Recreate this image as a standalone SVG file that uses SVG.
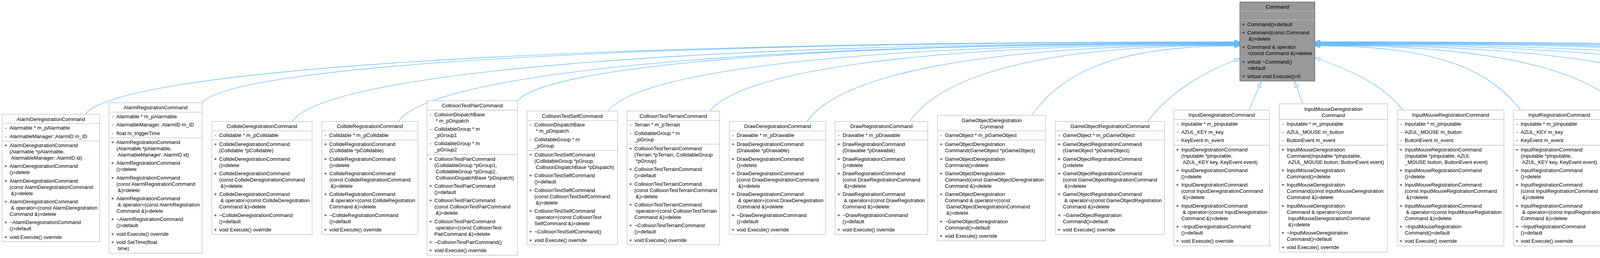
<svg xmlns="http://www.w3.org/2000/svg" width="6458" height="661" viewBox="0 0 6458 661">
<style>
.b{fill:#fff;stroke:#bfbfbf;stroke-width:1.33}
.s{fill:none;stroke:#bfbfbf;stroke-width:1.33}
.cb{fill:#999;stroke:#666;stroke-width:1.33}
.cs{fill:none;stroke:#b5b5b5;stroke-width:1.33}
text{font-family:"Liberation Sans",Arial,Helvetica,sans-serif;font-size:13px;fill:#000}
.t{text-anchor:middle}
.e{fill:none;stroke:#63b8ff;stroke-width:1.33;marker-end:url(#arr)}
</style>
<defs>
<marker id="arr" markerUnits="userSpaceOnUse" markerWidth="16" markerHeight="12" refX="0.5" refY="5.5" orient="auto" overflow="visible"><path d="M0.5,0.8L13.5,5.5L0.5,10.2Z" fill="none" stroke="#63b8ff" stroke-width="1.33"/></marker>
</defs>
<rect width="6458" height="661" fill="#fff"/>
<g id="connectors">
<path class="e" d="M219,292.7C299,181.3 1396,107 3161,107"/>
<path class="e" d="M517,263.3C597,170.1 1575,108 3161,108"/>
<path class="e" d="M748,311.3C828,190.2 1713,109.5 3161,109.5"/>
<path class="e" d="M1020,311.3C1100,190.8 1876,110.5 3161,110.5"/>
<path class="e" d="M1325,258C1405,170.1 2059,111.5 3161,111.5"/>
<path class="e" d="M1556,284.7C1636,181.4 2198,112.5 3161,112.5"/>
<path class="e" d="M1817,284.7C1897,182.3 2355,114 3161,114"/>
<path class="e" d="M2066,311.3C2146,193.5 2504,115 3161,115"/>
<path class="e" d="M2329,311.3C2409,194.1 2662,116 3161,116"/>
<path class="e" d="M2641,295.3C2719,188.6 2849,117.5 3161,117.5"/>
<path class="e" d="M2938,311.3C2990,240 3080,185 3162,154.5"/>
<path class="e" d="M3198,282L3223.2,222"/>
<path class="e" d="M3335,266L3319.3,222.3"/>
<path class="e" d="M3591,282C3540,215 3455,180 3378,152"/>
<path class="e" d="M3893,282C3816,183.3 3687,117.5 3379,117.5"/>
<path class="e" d="M4168,295.3C4088,187.7 3852,116 3379,116"/>
<path class="e" d="M4478,311.3C4398,193.5 4038,115 3379,115"/>
<path class="e" d="M4770,311.3C4690,192.9 4214,114 3379,114"/>
<path class="e" d="M5051,311.3C4971,192 4382,112.5 3379,112.5"/>
<path class="e" d="M5275,266C5195,173.3 4517,111.5 3379,111.5"/>
<path class="e" d="M5511,266C5431,172.7 4658,110.5 3379,110.5"/>
<path class="e" d="M5763,266C5683,172.1 4809,109.5 3379,109.5"/>
<path class="e" d="M5993,266C5913,171.2 4947,108 3379,108"/>
<path class="e" d="M6224,258C6144,167.4 5086,107 3379,107"/>
</g>

<g id="Command" transform="translate(3174,5)"><rect class="cb" width="192" height="202.67"/><path class="cs" d="M0,24H192M0,46H192"/><text class="t" x="96" y="17">Command</text><text y="61.67"><tspan x="5.6">+</tspan><tspan x="19">Command()=default</tspan><tspan x="5.6" dy="21.33">+</tspan><tspan x="19">Command(const Command</tspan><tspan x="22.6" dy="16">&amp;)=delete</tspan><tspan x="5.6" dy="21.33">+</tspan><tspan x="19">Command &amp; operator</tspan><tspan x="19" dy="16">=(const Command &amp;)=delete</tspan><tspan x="5.6" dy="21.33">+</tspan><tspan x="19">virtual ~Command()</tspan><tspan x="19" dy="16">=default</tspan><tspan x="5.6" dy="21.33">+</tspan><tspan x="19">virtual void Execute()=0</tspan></text></g>

<g id="AlarmDeregistrationCommand" transform="translate(5.5,292.67)"><rect class="b" width="249.5" height="326.67"/><path class="s" d="M0,24H249.5M0,68.67H249.5"/><text class="t" x="124.75" y="17">AlarmDeregistrationCommand</text><text y="39.67"><tspan x="7.3">-</tspan><tspan x="19">Alarmable * m_pAlarmable</tspan><tspan x="7.3" dy="21.33">-</tspan><tspan x="19">AlarmableManager::AlarmID m_ID</tspan></text><text y="84.33"><tspan x="5.6">+</tspan><tspan x="19">AlarmDeregistrationCommand</tspan><tspan x="19" dy="16">(Alarmable *pAlarmable,</tspan><tspan x="22.6" dy="16">AlarmableManager::AlarmID id)</tspan><tspan x="5.6" dy="21.33">+</tspan><tspan x="19">AlarmDeregistrationCommand</tspan><tspan x="19" dy="16">()=delete</tspan><tspan x="5.6" dy="21.33">+</tspan><tspan x="19">AlarmDeregistrationCommand</tspan><tspan x="19" dy="16">(const AlarmDeregistrationCommand</tspan><tspan x="22.6" dy="16">&amp;)=delete</tspan><tspan x="5.6" dy="21.33">+</tspan><tspan x="19">AlarmDeregistrationCommand</tspan><tspan x="22.6" dy="16">&amp; operator=(const AlarmDeregistration</tspan><tspan x="19" dy="16">Command &amp;)=delete</tspan><tspan x="5.6" dy="21.33">+</tspan><tspan x="19">~AlarmDeregistrationCommand</tspan><tspan x="19" dy="16">()=default</tspan><tspan x="5.6" dy="21.33">+</tspan><tspan x="19">void Execute() override</tspan></text></g>

<g id="AlarmRegistrationCommand" transform="translate(279,263.33)"><rect class="b" width="238.5" height="385.33"/><path class="s" d="M0,24H238.5M0,90H238.5"/><text class="t" x="119.25" y="17">AlarmRegistrationCommand</text><text y="39.67"><tspan x="7.3">-</tspan><tspan x="19">Alarmable * m_pAlarmable</tspan><tspan x="7.3" dy="21.33">-</tspan><tspan x="19">AlarmableManager::AlarmID m_ID</tspan><tspan x="7.3" dy="21.33">-</tspan><tspan x="19">float m_triggerTime</tspan></text><text y="105.67"><tspan x="5.6">+</tspan><tspan x="19">AlarmRegistrationCommand</tspan><tspan x="19" dy="16">(Alarmable *pAlarmable,</tspan><tspan x="22.6" dy="16">AlarmableManager::AlarmID id)</tspan><tspan x="5.6" dy="21.33">+</tspan><tspan x="19">AlarmRegistrationCommand</tspan><tspan x="19" dy="16">()=delete</tspan><tspan x="5.6" dy="21.33">+</tspan><tspan x="19">AlarmRegistrationCommand</tspan><tspan x="19" dy="16">(const AlarmRegistrationCommand</tspan><tspan x="22.6" dy="16">&amp;)=delete</tspan><tspan x="5.6" dy="21.33">+</tspan><tspan x="19">AlarmRegistrationCommand</tspan><tspan x="22.6" dy="16">&amp; operator=(const AlarmRegistration</tspan><tspan x="19" dy="16">Command &amp;)=delete</tspan><tspan x="5.6" dy="21.33">+</tspan><tspan x="19">~AlarmRegistrationCommand</tspan><tspan x="19" dy="16">()=default</tspan><tspan x="5.6" dy="21.33">+</tspan><tspan x="19">void Execute() override</tspan><tspan x="5.6" dy="21.33">+</tspan><tspan x="19">void SetTime(float</tspan><tspan x="22.6" dy="16">time)</tspan></text></g>

<g id="CollideDeregistrationCommand" transform="translate(542,311.33)"><rect class="b" width="257" height="289.33"/><path class="s" d="M0,24H257M0,47.33H257"/><text class="t" x="128.5" y="17">CollideDeregistrationCommand</text><text y="39.67"><tspan x="7.3">-</tspan><tspan x="19">Collidable * m_pCollidable</tspan></text><text y="63"><tspan x="5.6">+</tspan><tspan x="19">CollideDeregistrationCommand</tspan><tspan x="19" dy="16">(Collidable *pCollidable)</tspan><tspan x="5.6" dy="21.33">+</tspan><tspan x="19">CollideDeregistrationCommand</tspan><tspan x="19" dy="16">()=delete</tspan><tspan x="5.6" dy="21.33">+</tspan><tspan x="19">CollideDeregistrationCommand</tspan><tspan x="19" dy="16">(const CollideDeregistrationCommand</tspan><tspan x="22.6" dy="16">&amp;)=delete</tspan><tspan x="5.6" dy="21.33">+</tspan><tspan x="19">CollideDeregistrationCommand</tspan><tspan x="22.6" dy="16">&amp; operator=(const CollideDeregistration</tspan><tspan x="19" dy="16">Command &amp;)=delete</tspan><tspan x="5.6" dy="21.33">+</tspan><tspan x="19">~CollideDeregistrationCommand</tspan><tspan x="19" dy="16">()=default</tspan><tspan x="5.6" dy="21.33">+</tspan><tspan x="19">void Execute() override</tspan></text></g>

<g id="CollideRegistrationCommand" transform="translate(824,311.33)"><rect class="b" width="246" height="289.33"/><path class="s" d="M0,24H246M0,47.33H246"/><text class="t" x="123" y="17">CollideRegistrationCommand</text><text y="39.67"><tspan x="7.3">-</tspan><tspan x="19">Collidable * m_pCollidable</tspan></text><text y="63"><tspan x="5.6">+</tspan><tspan x="19">CollideRegistrationCommand</tspan><tspan x="19" dy="16">(Collidable *pCollidable)</tspan><tspan x="5.6" dy="21.33">+</tspan><tspan x="19">CollideRegistrationCommand</tspan><tspan x="19" dy="16">()=delete</tspan><tspan x="5.6" dy="21.33">+</tspan><tspan x="19">CollideRegistrationCommand</tspan><tspan x="19" dy="16">(const CollideRegistrationCommand</tspan><tspan x="22.6" dy="16">&amp;)=delete</tspan><tspan x="5.6" dy="21.33">+</tspan><tspan x="19">CollideRegistrationCommand</tspan><tspan x="22.6" dy="16">&amp; operator=(const CollideRegistration</tspan><tspan x="19" dy="16">Command &amp;)=delete</tspan><tspan x="5.6" dy="21.33">+</tspan><tspan x="19">~CollideRegistrationCommand</tspan><tspan x="19" dy="16">()=default</tspan><tspan x="5.6" dy="21.33">+</tspan><tspan x="19">void Execute() override</tspan></text></g>

<g id="CollisionTestPairCommand" transform="translate(1093,258)"><rect class="b" width="232" height="396"/><path class="s" d="M0,24H232M0,138H232"/><text class="t" x="116" y="17">CollisionTestPairCommand</text><text y="39.67"><tspan x="7.3">-</tspan><tspan x="19">CollisionDispatchBase</tspan><tspan x="22.6" dy="16">* m_pDispatch</tspan><tspan x="7.3" dy="21.33">-</tspan><tspan x="19">CollidableGroup * m</tspan><tspan x="19" dy="16">_pGroup1</tspan><tspan x="7.3" dy="21.33">-</tspan><tspan x="19">CollidableGroup * m</tspan><tspan x="19" dy="16">_pGroup2</tspan></text><text y="153.67"><tspan x="5.6">+</tspan><tspan x="19">CollisionTestPairCommand</tspan><tspan x="19" dy="16">(CollidableGroup *pGroup1,</tspan><tspan x="22.6" dy="16">CollidableGroup *pGroup2,</tspan><tspan x="22.6" dy="16">CollisionDispatchBase *pDispatch)</tspan><tspan x="5.6" dy="21.33">+</tspan><tspan x="19">CollisionTestPairCommand</tspan><tspan x="19" dy="16">()=default</tspan><tspan x="5.6" dy="21.33">+</tspan><tspan x="19">CollisionTestPairCommand</tspan><tspan x="19" dy="16">(const CollisionTestPairCommand</tspan><tspan x="22.6" dy="16">&amp;)=delete</tspan><tspan x="5.6" dy="21.33">+</tspan><tspan x="19">CollisionTestPairCommand</tspan><tspan x="22.6" dy="16">operator=(const CollisionTest</tspan><tspan x="19" dy="16">PairCommand &amp;)=delete</tspan><tspan x="5.6" dy="21.33">+</tspan><tspan x="19">~CollisionTestPairCommand()</tspan><tspan x="5.6" dy="21.33">+</tspan><tspan x="19">void Execute() override</tspan></text></g>

<g id="CollisionTestSelfCommand" transform="translate(1349,284.67)"><rect class="b" width="232" height="342.67"/><path class="s" d="M0,24H232M0,100.67H232"/><text class="t" x="116" y="17">CollisionTestSelfCommand</text><text y="39.67"><tspan x="7.3">-</tspan><tspan x="19">CollisionDispatchBase</tspan><tspan x="22.6" dy="16">* m_pDispatch</tspan><tspan x="7.3" dy="21.33">-</tspan><tspan x="19">CollidableGroup * m</tspan><tspan x="19" dy="16">_pGroup</tspan></text><text y="116.33"><tspan x="5.6">+</tspan><tspan x="19">CollisionTestSelfCommand</tspan><tspan x="19" dy="16">(CollidableGroup *pGroup,</tspan><tspan x="22.6" dy="16">CollisionDispatchBase *pDispatch)</tspan><tspan x="5.6" dy="21.33">+</tspan><tspan x="19">CollisionTestSelfCommand</tspan><tspan x="19" dy="16">()=default</tspan><tspan x="5.6" dy="21.33">+</tspan><tspan x="19">CollisionTestSelfCommand</tspan><tspan x="19" dy="16">(const CollisionTestSelfCommand</tspan><tspan x="22.6" dy="16">&amp;)=delete</tspan><tspan x="5.6" dy="21.33">+</tspan><tspan x="19">CollisionTestSelfCommand</tspan><tspan x="22.6" dy="16">operator=(const CollisionTest</tspan><tspan x="19" dy="16">SelfCommand &amp;)=delete</tspan><tspan x="5.6" dy="21.33">+</tspan><tspan x="19">~CollisionTestSelfCommand()</tspan><tspan x="5.6" dy="21.33">+</tspan><tspan x="19">void Execute() override</tspan></text></g>

<g id="CollisionTestTerrainCommand" transform="translate(1605,284.67)"><rect class="b" width="237" height="342.67"/><path class="s" d="M0,24H237M0,84.67H237"/><text class="t" x="118.5" y="17">CollisionTestTerrainCommand</text><text y="39.67"><tspan x="7.3">-</tspan><tspan x="19">Terrain * m_pTerrain</tspan><tspan x="7.3" dy="21.33">-</tspan><tspan x="19">CollidableGroup * m</tspan><tspan x="19" dy="16">_pGroup</tspan></text><text y="100.33"><tspan x="5.6">+</tspan><tspan x="19">CollisionTestTerrainCommand</tspan><tspan x="19" dy="16">(Terrain *pTerrain, CollidableGroup</tspan><tspan x="22.6" dy="16">*pGroup)</tspan><tspan x="5.6" dy="21.33">+</tspan><tspan x="19">CollisionTestTerrainCommand</tspan><tspan x="19" dy="16">()=default</tspan><tspan x="5.6" dy="21.33">+</tspan><tspan x="19">CollisionTestTerrainCommand</tspan><tspan x="19" dy="16">(const CollisionTestTerrainCommand</tspan><tspan x="22.6" dy="16">&amp;)=delete</tspan><tspan x="5.6" dy="21.33">+</tspan><tspan x="19">CollisionTestTerrainCommand</tspan><tspan x="22.6" dy="16">operator=(const CollisionTestTerrain</tspan><tspan x="19" dy="16">Command &amp;)=delete</tspan><tspan x="5.6" dy="21.33">+</tspan><tspan x="19">~CollisionTestTerrainCommand</tspan><tspan x="19" dy="16">()=default</tspan><tspan x="5.6" dy="21.33">+</tspan><tspan x="19">void Execute() override</tspan></text></g>

<g id="DrawDeregistrationCommand" transform="translate(1867,311.33)"><rect class="b" width="247" height="289.33"/><path class="s" d="M0,24H247M0,47.33H247"/><text class="t" x="123.5" y="17">DrawDeregistrationCommand</text><text y="39.67"><tspan x="7.3">-</tspan><tspan x="19">Drawable * m_pDrawable</tspan></text><text y="63"><tspan x="5.6">+</tspan><tspan x="19">DrawDeregistrationCommand</tspan><tspan x="19" dy="16">(Drawable *pDrawable)</tspan><tspan x="5.6" dy="21.33">+</tspan><tspan x="19">DrawDeregistrationCommand</tspan><tspan x="19" dy="16">()=delete</tspan><tspan x="5.6" dy="21.33">+</tspan><tspan x="19">DrawDeregistrationCommand</tspan><tspan x="19" dy="16">(const DrawDeregistrationCommand</tspan><tspan x="22.6" dy="16">&amp;)=delete</tspan><tspan x="5.6" dy="21.33">+</tspan><tspan x="19">DrawDeregistrationCommand</tspan><tspan x="22.6" dy="16">&amp; operator=(const DrawDeregistration</tspan><tspan x="19" dy="16">Command &amp;)=delete</tspan><tspan x="5.6" dy="21.33">+</tspan><tspan x="19">~DrawDeregistrationCommand</tspan><tspan x="19" dy="16">()=default</tspan><tspan x="5.6" dy="21.33">+</tspan><tspan x="19">void Execute() override</tspan></text></g>

<g id="DrawRegistrationCommand" transform="translate(2138,311.33)"><rect class="b" width="237" height="289.33"/><path class="s" d="M0,24H237M0,47.33H237"/><text class="t" x="118.5" y="17">DrawRegistrationCommand</text><text y="39.67"><tspan x="7.3">-</tspan><tspan x="19">Drawable * m_pDrawable</tspan></text><text y="63"><tspan x="5.6">+</tspan><tspan x="19">DrawRegistrationCommand</tspan><tspan x="19" dy="16">(Drawable *pDrawable)</tspan><tspan x="5.6" dy="21.33">+</tspan><tspan x="19">DrawRegistrationCommand</tspan><tspan x="19" dy="16">()=delete</tspan><tspan x="5.6" dy="21.33">+</tspan><tspan x="19">DrawRegistrationCommand</tspan><tspan x="19" dy="16">(const DrawRegistrationCommand</tspan><tspan x="22.6" dy="16">&amp;)=delete</tspan><tspan x="5.6" dy="21.33">+</tspan><tspan x="19">DrawRegistrationCommand</tspan><tspan x="22.6" dy="16">&amp; operator=(const DrawRegistration</tspan><tspan x="19" dy="16">Command &amp;)=delete</tspan><tspan x="5.6" dy="21.33">+</tspan><tspan x="19">~DrawRegistrationCommand</tspan><tspan x="19" dy="16">()=default</tspan><tspan x="5.6" dy="21.33">+</tspan><tspan x="19">void Execute() override</tspan></text></g>

<g id="GameObjectDeregistrationCommand" transform="translate(2400,295.33)"><rect class="b" width="277" height="321.33"/><path class="s" d="M0,40H277M0,63.33H277"/><text class="t" x="138.5" y="18">GameObjectDeregistration</text><text class="t" x="138.5" y="34">Command</text><text y="55.67"><tspan x="7.3">-</tspan><tspan x="19">GameObject * m_pGameObject</tspan></text><text y="79"><tspan x="5.6">+</tspan><tspan x="19">GameObjectDeregistration</tspan><tspan x="19" dy="16">Command(GameObject *pGameObject)</tspan><tspan x="5.6" dy="21.33">+</tspan><tspan x="19">GameObjectDeregistration</tspan><tspan x="19" dy="16">Command()=delete</tspan><tspan x="5.6" dy="21.33">+</tspan><tspan x="19">GameObjectDeregistration</tspan><tspan x="19" dy="16">Command(const GameObjectDeregistration</tspan><tspan x="19" dy="16">Command &amp;)=delete</tspan><tspan x="5.6" dy="21.33">+</tspan><tspan x="19">GameObjectDeregistration</tspan><tspan x="19" dy="16">Command &amp; operator=(const</tspan><tspan x="22.6" dy="16">GameObjectDeregistrationCommand</tspan><tspan x="22.6" dy="16">&amp;)=delete</tspan><tspan x="5.6" dy="21.33">+</tspan><tspan x="19">~GameObjectDeregistration</tspan><tspan x="19" dy="16">Command()=default</tspan><tspan x="5.6" dy="21.33">+</tspan><tspan x="19">void Execute() override</tspan></text></g>

<g id="GameObjectRegistrationCommand" transform="translate(2702,311.33)"><rect class="b" width="279" height="289.33"/><path class="s" d="M0,24H279M0,47.33H279"/><text class="t" x="139.5" y="17">GameObjectRegistrationCommand</text><text y="39.67"><tspan x="7.3">-</tspan><tspan x="19">GameObject * m_pGameObject</tspan></text><text y="63"><tspan x="5.6">+</tspan><tspan x="19">GameObjectRegistrationCommand</tspan><tspan x="19" dy="16">(GameObject *pGameObject)</tspan><tspan x="5.6" dy="21.33">+</tspan><tspan x="19">GameObjectRegistrationCommand</tspan><tspan x="19" dy="16">()=delete</tspan><tspan x="5.6" dy="21.33">+</tspan><tspan x="19">GameObjectRegistrationCommand</tspan><tspan x="19" dy="16">(const GameObjectRegistrationCommand</tspan><tspan x="22.6" dy="16">&amp;)=delete</tspan><tspan x="5.6" dy="21.33">+</tspan><tspan x="19">GameObjectRegistrationCommand</tspan><tspan x="22.6" dy="16">&amp; operator=(const GameObjectRegistration</tspan><tspan x="19" dy="16">Command &amp;)=delete</tspan><tspan x="5.6" dy="21.33">+</tspan><tspan x="19">~GameObjectRegistration</tspan><tspan x="19" dy="16">Command()=default</tspan><tspan x="5.6" dy="21.33">+</tspan><tspan x="19">void Execute() override</tspan></text></g>

<g id="InputDeregistrationCommand" transform="translate(3005,282)"><rect class="b" width="245" height="348"/><path class="s" d="M0,24H245M0,90H245"/><text class="t" x="122.5" y="17">InputDeregistrationCommand</text><text y="39.67"><tspan x="7.3">-</tspan><tspan x="19">Inputable * m_pInputable</tspan><tspan x="7.3" dy="21.33">-</tspan><tspan x="19">AZUL_KEY m_key</tspan><tspan x="7.3" dy="21.33">-</tspan><tspan x="19">KeyEvent m_event</tspan></text><text y="105.67"><tspan x="5.6">+</tspan><tspan x="19">InputDeregistrationCommand</tspan><tspan x="19" dy="16">(Inputable *pInputable,</tspan><tspan x="22.6" dy="16">AZUL_KEY key, KeyEvent event)</tspan><tspan x="5.6" dy="21.33">+</tspan><tspan x="19">InputDeregistrationCommand</tspan><tspan x="19" dy="16">()=delete</tspan><tspan x="5.6" dy="21.33">+</tspan><tspan x="19">InputDeregistrationCommand</tspan><tspan x="19" dy="16">(const InputDeregistrationCommand</tspan><tspan x="22.6" dy="16">&amp;)=delete</tspan><tspan x="5.6" dy="21.33">+</tspan><tspan x="19">InputDeregistrationCommand</tspan><tspan x="22.6" dy="16">&amp; operator=(const InputDeregistration</tspan><tspan x="19" dy="16">Command &amp;)=delete</tspan><tspan x="5.6" dy="21.33">+</tspan><tspan x="19">~InputDeregistrationCommand</tspan><tspan x="19" dy="16">()=default</tspan><tspan x="5.6" dy="21.33">+</tspan><tspan x="19">void Execute() override</tspan></text></g>

<g id="InputMouseDeregistrationCommand" transform="translate(3275,266)"><rect class="b" width="277" height="380"/><path class="s" d="M0,40H277M0,106H277"/><text class="t" x="138.5" y="18">InputMouseDeregistration</text><text class="t" x="138.5" y="34">Command</text><text y="55.67"><tspan x="7.3">-</tspan><tspan x="19">Inputable * m_pInputable</tspan><tspan x="7.3" dy="21.33">-</tspan><tspan x="19">AZUL_MOUSE m_button</tspan><tspan x="7.3" dy="21.33">-</tspan><tspan x="19">ButtonEvent m_event</tspan></text><text y="121.67"><tspan x="5.6">+</tspan><tspan x="19">InputMouseDeregistration</tspan><tspan x="19" dy="16">Command(Inputable *pInputable,</tspan><tspan x="22.6" dy="16">AZUL_MOUSE button, ButtonEvent event)</tspan><tspan x="5.6" dy="21.33">+</tspan><tspan x="19">InputMouseDeregistration</tspan><tspan x="19" dy="16">Command()=delete</tspan><tspan x="5.6" dy="21.33">+</tspan><tspan x="19">InputMouseDeregistration</tspan><tspan x="19" dy="16">Command(const InputMouseDeregistration</tspan><tspan x="19" dy="16">Command &amp;)=delete</tspan><tspan x="5.6" dy="21.33">+</tspan><tspan x="19">InputMouseDeregistration</tspan><tspan x="19" dy="16">Command &amp; operator=(const</tspan><tspan x="22.6" dy="16">InputMouseDeregistrationCommand</tspan><tspan x="22.6" dy="16">&amp;)=delete</tspan><tspan x="5.6" dy="21.33">+</tspan><tspan x="19">~InputMouseDeregistration</tspan><tspan x="19" dy="16">Command()=default</tspan><tspan x="5.6" dy="21.33">+</tspan><tspan x="19">void Execute() override</tspan></text></g>

<g id="InputMouseRegistrationCommand" transform="translate(3577,282)"><rect class="b" width="273" height="348"/><path class="s" d="M0,24H273M0,90H273"/><text class="t" x="136.5" y="17">InputMouseRegistrationCommand</text><text y="39.67"><tspan x="7.3">-</tspan><tspan x="19">Inputable * m_pInputable</tspan><tspan x="7.3" dy="21.33">-</tspan><tspan x="19">AZUL_MOUSE m_button</tspan><tspan x="7.3" dy="21.33">-</tspan><tspan x="19">ButtonEvent m_event</tspan></text><text y="105.67"><tspan x="5.6">+</tspan><tspan x="19">InputMouseRegistrationCommand</tspan><tspan x="19" dy="16">(Inputable *pInputable, AZUL</tspan><tspan x="19" dy="16">_MOUSE button, ButtonEvent event)</tspan><tspan x="5.6" dy="21.33">+</tspan><tspan x="19">InputMouseRegistrationCommand</tspan><tspan x="19" dy="16">()=delete</tspan><tspan x="5.6" dy="21.33">+</tspan><tspan x="19">InputMouseRegistrationCommand</tspan><tspan x="19" dy="16">(const InputMouseRegistrationCommand</tspan><tspan x="22.6" dy="16">&amp;)=delete</tspan><tspan x="5.6" dy="21.33">+</tspan><tspan x="19">InputMouseRegistrationCommand</tspan><tspan x="22.6" dy="16">&amp; operator=(const InputMouseRegistration</tspan><tspan x="19" dy="16">Command &amp;)=delete</tspan><tspan x="5.6" dy="21.33">+</tspan><tspan x="19">~InputMouseRegistration</tspan><tspan x="19" dy="16">Command()=default</tspan><tspan x="5.6" dy="21.33">+</tspan><tspan x="19">void Execute() override</tspan></text></g>

<g id="InputRegistrationCommand" transform="translate(3874,282)"><rect class="b" width="235" height="348"/><path class="s" d="M0,24H235M0,90H235"/><text class="t" x="117.5" y="17">InputRegistrationCommand</text><text y="39.67"><tspan x="7.3">-</tspan><tspan x="19">Inputable * m_pInputable</tspan><tspan x="7.3" dy="21.33">-</tspan><tspan x="19">AZUL_KEY m_key</tspan><tspan x="7.3" dy="21.33">-</tspan><tspan x="19">KeyEvent m_event</tspan></text><text y="105.67"><tspan x="5.6">+</tspan><tspan x="19">InputRegistrationCommand</tspan><tspan x="19" dy="16">(Inputable *pInputable,</tspan><tspan x="22.6" dy="16">AZUL_KEY key, KeyEvent event)</tspan><tspan x="5.6" dy="21.33">+</tspan><tspan x="19">InputRegistrationCommand</tspan><tspan x="19" dy="16">()=delete</tspan><tspan x="5.6" dy="21.33">+</tspan><tspan x="19">InputRegistrationCommand</tspan><tspan x="19" dy="16">(const InputRegistrationCommand</tspan><tspan x="22.6" dy="16">&amp;)=delete</tspan><tspan x="5.6" dy="21.33">+</tspan><tspan x="19">InputRegistrationCommand</tspan><tspan x="22.6" dy="16">&amp; operator=(const InputRegistration</tspan><tspan x="19" dy="16">Command &amp;)=delete</tspan><tspan x="5.6" dy="21.33">+</tspan><tspan x="19">~InputRegistrationCommand</tspan><tspan x="19" dy="16">()=default</tspan><tspan x="5.6" dy="21.33">+</tspan><tspan x="19">void Execute() override</tspan></text></g>

<g id="InputTypedDeregistrationCommand" transform="translate(4134,295.33)"><rect class="b" width="268" height="321.33"/><path class="s" d="M0,40H268M0,63.33H268"/><text class="t" x="134" y="18">InputTypedDeregistration</text><text class="t" x="134" y="34">Command</text><text y="55.67"><tspan x="7.3">-</tspan><tspan x="19">Inputable * m_pInputable</tspan></text><text y="79"><tspan x="5.6">+</tspan><tspan x="19">InputTypedDeregistration</tspan><tspan x="19" dy="16">Command(Inputable *pInputable)</tspan><tspan x="5.6" dy="21.33">+</tspan><tspan x="19">InputTypedDeregistration</tspan><tspan x="19" dy="16">Command()=delete</tspan><tspan x="5.6" dy="21.33">+</tspan><tspan x="19">InputTypedDeregistration</tspan><tspan x="19" dy="16">Command(const InputTypedDeregistration</tspan><tspan x="19" dy="16">Command &amp;)=delete</tspan><tspan x="5.6" dy="21.33">+</tspan><tspan x="19">InputTypedDeregistration</tspan><tspan x="19" dy="16">Command &amp; operator=(const</tspan><tspan x="22.6" dy="16">InputTypedDeregistrationCommand</tspan><tspan x="22.6" dy="16">&amp;)=delete</tspan><tspan x="5.6" dy="21.33">+</tspan><tspan x="19">~InputTypedDeregistration</tspan><tspan x="19" dy="16">Command()=default</tspan><tspan x="5.6" dy="21.33">+</tspan><tspan x="19">void Execute() override</tspan></text></g>

<g id="InputTypedRegistrationCommand" transform="translate(4426,311.33)"><rect class="b" width="270" height="289.33"/><path class="s" d="M0,24H270M0,47.33H270"/><text class="t" x="135" y="17">InputTypedRegistrationCommand</text><text y="39.67"><tspan x="7.3">-</tspan><tspan x="19">Inputable * m_pInputable</tspan></text><text y="63"><tspan x="5.6">+</tspan><tspan x="19">InputTypedRegistrationCommand</tspan><tspan x="19" dy="16">(Inputable *pInputable)</tspan><tspan x="5.6" dy="21.33">+</tspan><tspan x="19">InputTypedRegistrationCommand</tspan><tspan x="19" dy="16">()=delete</tspan><tspan x="5.6" dy="21.33">+</tspan><tspan x="19">InputTypedRegistrationCommand</tspan><tspan x="19" dy="16">(const InputTypedRegistrationCommand</tspan><tspan x="22.6" dy="16">&amp;)=delete</tspan><tspan x="5.6" dy="21.33">+</tspan><tspan x="19">InputTypedRegistrationCommand</tspan><tspan x="22.6" dy="16">&amp; operator=(const InputTypedRegistration</tspan><tspan x="19" dy="16">Command &amp;)=delete</tspan><tspan x="5.6" dy="21.33">+</tspan><tspan x="19">~InputTypedRegistration</tspan><tspan x="19" dy="16">Command()=default</tspan><tspan x="5.6" dy="21.33">+</tspan><tspan x="19">void Execute() override</tspan></text></g>

<g id="UpdateDeregistrationCommand" transform="translate(4719.5,311.33)"><rect class="b" width="258.5" height="289.33"/><path class="s" d="M0,24H258.5M0,47.33H258.5"/><text class="t" x="129.25" y="17">UpdateDeregistrationCommand</text><text y="39.67"><tspan x="7.3">-</tspan><tspan x="19">Updatable * m_pUpdatable</tspan></text><text y="63"><tspan x="5.6">+</tspan><tspan x="19">UpdateDeregistrationCommand</tspan><tspan x="19" dy="16">(Updatable *pUpdatable)</tspan><tspan x="5.6" dy="21.33">+</tspan><tspan x="19">UpdateDeregistrationCommand</tspan><tspan x="19" dy="16">()=delete</tspan><tspan x="5.6" dy="21.33">+</tspan><tspan x="19">UpdateDeregistrationCommand</tspan><tspan x="19" dy="16">(const UpdateDeregistrationCommand</tspan><tspan x="22.6" dy="16">&amp;)=delete</tspan><tspan x="5.6" dy="21.33">+</tspan><tspan x="19">UpdateDeregistrationCommand</tspan><tspan x="22.6" dy="16">&amp; operator=(const UpdateDeregistration</tspan><tspan x="19" dy="16">Command &amp;)=delete</tspan><tspan x="5.6" dy="21.33">+</tspan><tspan x="19">~UpdateDeregistrationCommand</tspan><tspan x="19" dy="16">()=default</tspan><tspan x="5.6" dy="21.33">+</tspan><tspan x="19">void Execute() override</tspan></text></g>

<g id="UpdateRegistrationCommand" transform="translate(5002,311.33)"><rect class="b" width="249" height="289.33"/><path class="s" d="M0,24H249M0,47.33H249"/><text class="t" x="124.5" y="17">UpdateRegistrationCommand</text><text y="39.67"><tspan x="7.3">-</tspan><tspan x="19">Updatable * m_pUpdatable</tspan></text><text y="63"><tspan x="5.6">+</tspan><tspan x="19">UpdateRegistrationCommand</tspan><tspan x="19" dy="16">(Updatable *pUpdatable)</tspan><tspan x="5.6" dy="21.33">+</tspan><tspan x="19">UpdateRegistrationCommand</tspan><tspan x="19" dy="16">()=delete</tspan><tspan x="5.6" dy="21.33">+</tspan><tspan x="19">UpdateRegistrationCommand</tspan><tspan x="19" dy="16">(const UpdateRegistrationCommand</tspan><tspan x="22.6" dy="16">&amp;)=delete</tspan><tspan x="5.6" dy="21.33">+</tspan><tspan x="19">UpdateRegistrationCommand</tspan><tspan x="22.6" dy="16">&amp; operator=(const UpdateRegistration</tspan><tspan x="19" dy="16">Command &amp;)=delete</tspan><tspan x="5.6" dy="21.33">+</tspan><tspan x="19">~UpdateRegistrationCommand</tspan><tspan x="19" dy="16">()=default</tspan><tspan x="5.6" dy="21.33">+</tspan><tspan x="19">void Execute() override</tspan></text></g>

<g id="VisualizeAABBCommand" transform="translate(5275,266)"><rect class="b" width="212" height="380"/><path class="s" d="M0,24H212M0,68.67H212"/><text class="t" x="106" y="17">VisualizeAABBCommand</text><text y="39.67"><tspan x="7.3">-</tspan><tspan x="19">Matrix m_worldAABB</tspan><tspan x="7.3" dy="21.33">-</tspan><tspan x="19">Vect m_color</tspan></text><text y="84.33"><tspan x="5.6">+</tspan><tspan x="19">VisualizeAABBCommand</tspan><tspan x="19" dy="16">()=delete</tspan><tspan x="5.6" dy="21.33">+</tspan><tspan x="19">VisualizeAABBCommand</tspan><tspan x="19" dy="16">(const VisualizeAABBCommand</tspan><tspan x="22.6" dy="16">&amp;)=delete</tspan><tspan x="5.6" dy="21.33">+</tspan><tspan x="19">VisualizeAABBCommand</tspan><tspan x="22.6" dy="16">&amp; operator=(const Visualize</tspan><tspan x="19" dy="16">AABBCommand &amp;)=delete</tspan><tspan x="5.6" dy="21.33">+</tspan><tspan x="19">~VisualizeAABBCommand</tspan><tspan x="19" dy="16">()=default</tspan><tspan x="5.6" dy="21.33">+</tspan><tspan x="19">VisualizeAABBCommand</tspan><tspan x="19" dy="16">(Matrix &amp;worldAABB, const</tspan><tspan x="22.6" dy="16">Vect &amp;color)</tspan><tspan x="5.6" dy="21.33">+</tspan><tspan x="19">void Initialize(Matrix</tspan><tspan x="22.6" dy="16">&amp;worldAABB, const Vect</tspan><tspan x="22.6" dy="16">&amp;color)</tspan><tspan x="5.6" dy="21.33">+</tspan><tspan x="19">void Execute() override</tspan></text></g>

<g id="VisualizeBSphereCommand" transform="translate(5511,266)"><rect class="b" width="227" height="380"/><path class="s" d="M0,24H227M0,68.67H227"/><text class="t" x="113.5" y="17">VisualizeBSphereCommand</text><text y="39.67"><tspan x="7.3">-</tspan><tspan x="19">Matrix m_worldBS</tspan><tspan x="7.3" dy="21.33">-</tspan><tspan x="19">Vect m_color</tspan></text><text y="84.33"><tspan x="5.6">+</tspan><tspan x="19">VisualizeBSphereCommand</tspan><tspan x="19" dy="16">()=delete</tspan><tspan x="5.6" dy="21.33">+</tspan><tspan x="19">VisualizeBSphereCommand</tspan><tspan x="19" dy="16">(const VisualizeBSphereCommand</tspan><tspan x="22.6" dy="16">&amp;)=delete</tspan><tspan x="5.6" dy="21.33">+</tspan><tspan x="19">VisualizeBSphereCommand</tspan><tspan x="22.6" dy="16">&amp; operator=(const Visualize</tspan><tspan x="19" dy="16">BSphereCommand &amp;)=delete</tspan><tspan x="5.6" dy="21.33">+</tspan><tspan x="19">~VisualizeBSphereCommand</tspan><tspan x="19" dy="16">()=default</tspan><tspan x="5.6" dy="21.33">+</tspan><tspan x="19">VisualizeBSphereCommand</tspan><tspan x="19" dy="16">(Matrix &amp;worldBS, const</tspan><tspan x="22.6" dy="16">Vect &amp;color)</tspan><tspan x="5.6" dy="21.33">+</tspan><tspan x="19">void Initialize(Matrix</tspan><tspan x="22.6" dy="16">&amp;worldBS, const Vect</tspan><tspan x="22.6" dy="16">&amp;color)</tspan><tspan x="5.6" dy="21.33">+</tspan><tspan x="19">void Execute() override</tspan></text></g>

<g id="VisualizeOBBCommand" transform="translate(5763,266)"><rect class="b" width="204" height="380"/><path class="s" d="M0,24H204M0,68.67H204"/><text class="t" x="102" y="17">VisualizeOBBCommand</text><text y="39.67"><tspan x="7.3">-</tspan><tspan x="19">Matrix m_worldOBB</tspan><tspan x="7.3" dy="21.33">-</tspan><tspan x="19">Vect m_color</tspan></text><text y="84.33"><tspan x="5.6">+</tspan><tspan x="19">VisualizeOBBCommand</tspan><tspan x="19" dy="16">()=delete</tspan><tspan x="5.6" dy="21.33">+</tspan><tspan x="19">VisualizeOBBCommand</tspan><tspan x="19" dy="16">(const VisualizeOBBCommand</tspan><tspan x="22.6" dy="16">&amp;)=delete</tspan><tspan x="5.6" dy="21.33">+</tspan><tspan x="19">VisualizeOBBCommand</tspan><tspan x="22.6" dy="16">&amp; operator=(const Visualize</tspan><tspan x="19" dy="16">OBBCommand &amp;)=delete</tspan><tspan x="5.6" dy="21.33">+</tspan><tspan x="19">~VisualizeOBBCommand</tspan><tspan x="19" dy="16">()=default</tspan><tspan x="5.6" dy="21.33">+</tspan><tspan x="19">VisualizeOBBCommand</tspan><tspan x="19" dy="16">(Matrix &amp;worldOBB, const</tspan><tspan x="22.6" dy="16">Vect &amp;color)</tspan><tspan x="5.6" dy="21.33">+</tspan><tspan x="19">void Initialize(Matrix</tspan><tspan x="22.6" dy="16">&amp;worldOBB, const Vect</tspan><tspan x="22.6" dy="16">&amp;color)</tspan><tspan x="5.6" dy="21.33">+</tspan><tspan x="19">void Execute() override</tspan></text></g>

<g id="VisualizePointCommand" transform="translate(5993,266)"><rect class="b" width="206" height="380"/><path class="s" d="M0,24H206M0,68.67H206"/><text class="t" x="103" y="17">VisualizePointCommand</text><text y="39.67"><tspan x="7.3">-</tspan><tspan x="19">Vect m_pos</tspan><tspan x="7.3" dy="21.33">-</tspan><tspan x="19">Vect m_color</tspan></text><text y="84.33"><tspan x="5.6">+</tspan><tspan x="19">VisualizePointCommand</tspan><tspan x="19" dy="16">()=delete</tspan><tspan x="5.6" dy="21.33">+</tspan><tspan x="19">VisualizePointCommand</tspan><tspan x="19" dy="16">(const VisualizePointCommand</tspan><tspan x="22.6" dy="16">&amp;)=delete</tspan><tspan x="5.6" dy="21.33">+</tspan><tspan x="19">VisualizePointCommand</tspan><tspan x="22.6" dy="16">&amp; operator=(const Visualize</tspan><tspan x="19" dy="16">PointCommand &amp;)=delete</tspan><tspan x="5.6" dy="21.33">+</tspan><tspan x="19">~VisualizePointCommand</tspan><tspan x="19" dy="16">()=default</tspan><tspan x="5.6" dy="21.33">+</tspan><tspan x="19">VisualizePointCommand</tspan><tspan x="19" dy="16">(const Vect &amp;pos, const</tspan><tspan x="22.6" dy="16">Vect &amp;color)</tspan><tspan x="5.6" dy="21.33">+</tspan><tspan x="19">void Initialize(const</tspan><tspan x="22.6" dy="16">Vect &amp;pos, const Vect</tspan><tspan x="22.6" dy="16">&amp;color)</tspan><tspan x="5.6" dy="21.33">+</tspan><tspan x="19">void Execute() override</tspan></text></g>

<g id="VisualizeSegmentCommand" transform="translate(6224,255.33)"><rect class="b" width="228" height="401.33"/><path class="s" d="M0,24H228M0,90H228"/><text class="t" x="114" y="17">VisualizeSegmentCommand</text><text y="39.67"><tspan x="7.3">-</tspan><tspan x="19">Vect m_pos1</tspan><tspan x="7.3" dy="21.33">-</tspan><tspan x="19">Vect m_pos2</tspan><tspan x="7.3" dy="21.33">-</tspan><tspan x="19">Vect m_color</tspan></text><text y="105.67"><tspan x="5.6">+</tspan><tspan x="19">VisualizeSegmentCommand</tspan><tspan x="19" dy="16">()=delete</tspan><tspan x="5.6" dy="21.33">+</tspan><tspan x="19">VisualizeSegmentCommand</tspan><tspan x="19" dy="16">(const VisualizeSegmentCommand</tspan><tspan x="22.6" dy="16">&amp;)=delete</tspan><tspan x="5.6" dy="21.33">+</tspan><tspan x="19">VisualizeSegmentCommand</tspan><tspan x="22.6" dy="16">&amp; operator=(const Visualize</tspan><tspan x="19" dy="16">SegmentCommand &amp;)=delete</tspan><tspan x="5.6" dy="21.33">+</tspan><tspan x="19">~VisualizeSegmentCommand</tspan><tspan x="19" dy="16">()=default</tspan><tspan x="5.6" dy="21.33">+</tspan><tspan x="19">VisualizeSegmentCommand</tspan><tspan x="19" dy="16">(const Vect &amp;pos1, const</tspan><tspan x="22.6" dy="16">Vect &amp;pos2, const Vect &amp;color)</tspan><tspan x="5.6" dy="21.33">+</tspan><tspan x="19">void Initialize(const</tspan><tspan x="22.6" dy="16">Vect &amp;pos1, const Vect</tspan><tspan x="22.6" dy="16">&amp;pos2, const Vect &amp;color)</tspan><tspan x="5.6" dy="21.33">+</tspan><tspan x="19">void Execute() override</tspan></text></g>
</svg>
